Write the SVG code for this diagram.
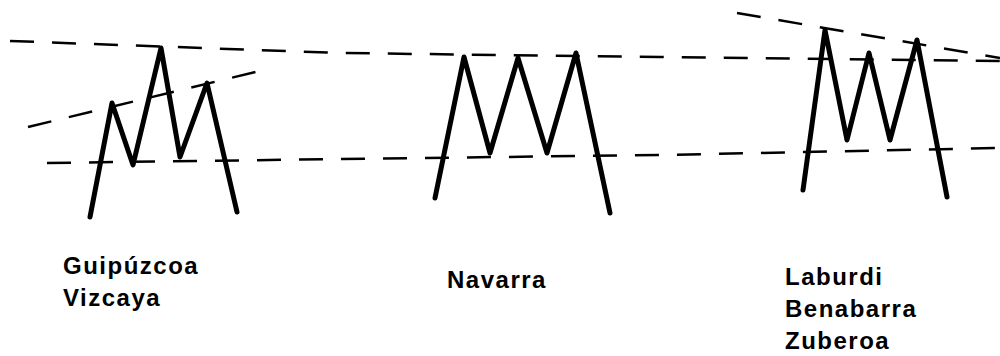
<svg xmlns="http://www.w3.org/2000/svg" width="1000" height="356" viewBox="0 0 1000 356">
<style>
.dash{fill:none;stroke:#000;stroke-width:2.5;stroke-dasharray:24 18}
.m{fill:none;stroke:#000;stroke-width:5;stroke-linejoin:round;stroke-linecap:round}
.lbl{font-family:"Liberation Sans",Arial,sans-serif;font-weight:bold;font-size:24px;letter-spacing:1.5px;fill:#000}
</style>
<rect width="1000" height="356" fill="#fff"/>
<g id="connectors">
<polyline class="dash" points="10,41 340,53 660,57 1000,61"/>
<polyline class="dash" points="28,127 272,68"/>
<polyline class="dash" points="47,163 340,159 660,155 1000,148"/>
<polyline class="dash" points="737,13 1000,58"/>
</g>
<g id="guipuzcoa">
<polyline class="m" points="90,217 112,103 133,165 161,48 180,157 207,83 237,212"/>
<text class="lbl" x="63" y="274">Guipúzcoa</text>
<text class="lbl" x="63" y="306">Vizcaya</text>
</g>
<g id="navarra">
<polyline class="m" points="435,198 464,57 490,153 518,58 547,153 576,53 610,213"/>
<text class="lbl" x="447" y="288">Navarra</text>
</g>
<g id="laburdi">
<polyline class="m" points="803,190 825,30 847,140 869,53 890,140 917,40 947,197"/>
<text class="lbl" x="785" y="285">Laburdi</text>
<text class="lbl" x="785" y="317">Benabarra</text>
<text class="lbl" x="785" y="349">Zuberoa</text>
</g>
</svg>
